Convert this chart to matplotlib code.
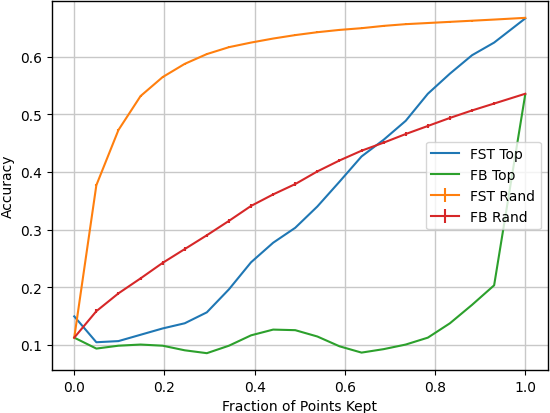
import matplotlib
matplotlib.use("Agg")
import matplotlib.pyplot as plt
import numpy as np

x = [0.0, 0.049, 0.098, 0.147, 0.196, 0.245, 0.294, 0.343, 0.392, 0.441,
     0.490, 0.539, 0.588, 0.637, 0.686, 0.735, 0.784, 0.833, 0.882, 0.931, 1.0]

fst_top = [0.149, 0.104, 0.106, 0.117, 0.128, 0.137, 0.156, 0.196, 0.243, 0.277,
           0.303, 0.340, 0.383, 0.427, 0.456, 0.489, 0.536, 0.571, 0.603, 0.625, 0.667]
fb_top = [0.112, 0.093, 0.098, 0.100, 0.098, 0.090, 0.085, 0.098, 0.116, 0.126,
          0.125, 0.114, 0.097, 0.086, 0.092, 0.100, 0.112, 0.137, 0.169, 0.203, 0.535]
fst_rand = [0.112, 0.377, 0.473, 0.532, 0.565, 0.588, 0.605, 0.617, 0.625, 0.632,
            0.638, 0.643, 0.647, 0.650, 0.654, 0.657, 0.659, 0.661, 0.663, 0.665, 0.668]
fb_rand = [0.112, 0.158, 0.189, 0.215, 0.242, 0.266, 0.290, 0.315, 0.341, 0.361,
           0.379, 0.401, 0.420, 0.437, 0.451, 0.466, 0.480, 0.494, 0.507, 0.519, 0.536]
fst_rand_err = [0.0, 0.0015, 0.0015, 0.0015, 0.0015, 0.0015, 0.0015, 0.0015, 0.0015, 0.0015,
                0.0015, 0.0015, 0.0015, 0.0015, 0.0015, 0.0015, 0.0015, 0.0015, 0.0015, 0.0015, 0.0]
fb_rand_err = [0.0, 0.003, 0.003, 0.003, 0.003, 0.003, 0.003, 0.003, 0.003, 0.003,
               0.003, 0.003, 0.003, 0.003, 0.003, 0.003, 0.003, 0.003, 0.003, 0.003, 0.0]

fig = plt.figure(figsize=(5.5, 4.14), dpi=100)
ax = fig.add_axes([0.094, 0.104, 0.902, 0.891])

ax.plot(x, fst_top, color="C0", lw=1.5, label="FST Top")
ax.plot(x, fb_top, color="C2", lw=1.5, label="FB Top")
ax.errorbar(x, fst_rand, yerr=fst_rand_err, color="C1", lw=1.5, label="FST Rand")
ax.errorbar(x, fb_rand, yerr=fb_rand_err, color="C3", lw=1.5, label="FB Rand")

ax.grid(True, color="#c8c8c8", lw=1.0)
ax.set_axisbelow(True)
for s in ax.spines.values():
    s.set_linewidth(1.0)
ax.set_xlabel("Fraction of Points Kept", fontsize=10)
ax.set_ylabel("Accuracy", fontsize=10)
ax.tick_params(labelsize=10)
ax.set_xticks([0.0, 0.2, 0.4, 0.6, 0.8, 1.0])
ax.set_yticks([0.1, 0.2, 0.3, 0.4, 0.5, 0.6])
ax.legend(loc="center right", fontsize=10)

fig.savefig("out.png", dpi=100)
